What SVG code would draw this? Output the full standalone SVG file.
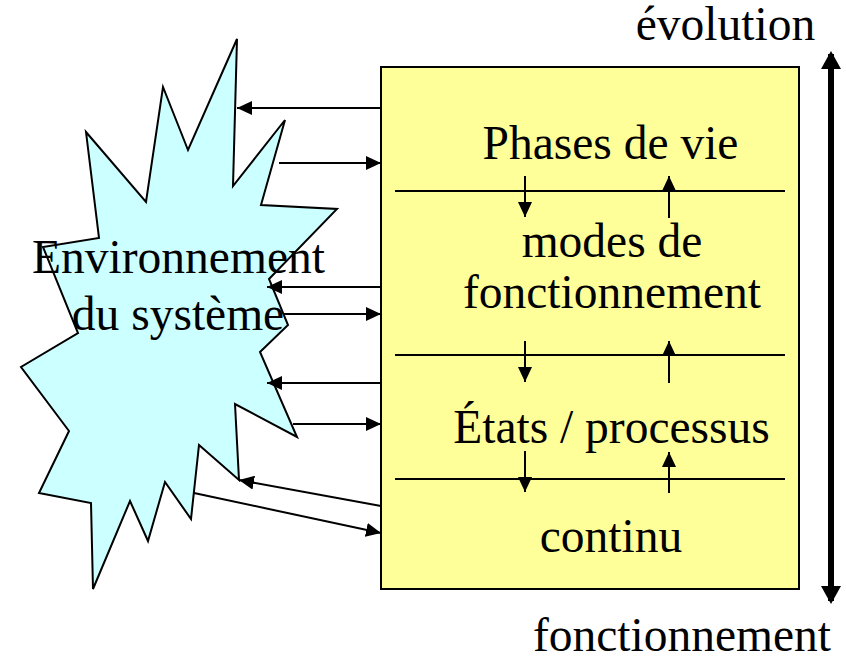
<svg xmlns="http://www.w3.org/2000/svg" width="846" height="657" viewBox="0 0 846 657">
<style>
text{font-family:"Liberation Serif","Times New Roman",serif;font-size:47.5px;fill:#000;text-anchor:middle}
.ln{stroke:#000;stroke-width:2;fill:none}
.ar{stroke:#000;stroke-width:2;fill:none;marker-end:url(#ah)}
.big{stroke:#000;stroke-width:6;fill:none;marker-start:url(#bh);marker-end:url(#bh)}
</style>
<defs>
<marker id="ah" markerUnits="userSpaceOnUse" markerWidth="16" markerHeight="14" refX="15" refY="7" orient="auto">
<path d="M0,0 L15,7 L0,14 z" fill="#000"/>
</marker>
<marker id="bh" markerUnits="userSpaceOnUse" markerWidth="18" markerHeight="20" refX="15" refY="10" orient="auto-start-reverse">
<path d="M0,0 L18,10 L0,20 z" fill="#000"/>
</marker>
</defs>
<g id="environnement">
<polygon points="237,39 233,186 285,120 261,205 337,209 269,279 288,325 260,352 297,437 235,404 239,480 199,445 191,519 165,482 148,541 130,501 93,589 91,503 39,493 69,431 21,367 78,333 43,247 99,238 86,132 146,202 163,87 188,150" fill="#CCFFFF" stroke="#000" stroke-width="2" stroke-linejoin="miter"/>
</g>
<g id="systeme">
<rect x="381" y="67" width="418" height="522" fill="#FFFF99" stroke="#000" stroke-width="2"/>
<line class="ln" x1="395" y1="191" x2="785" y2="191"/>
<line class="ln" x1="395" y1="355" x2="785" y2="355"/>
<line class="ln" x1="395" y1="479" x2="785" y2="479"/>
<text x="610.5" y="159">Phases de vie</text>
<text x="612" y="257">modes de</text>
<text x="612" y="308">fonctionnement</text>
<text x="611.5" y="443">États / processus</text>
<text x="611" y="552">continu</text>
</g>
<g id="connecteurs">
<line class="ar" x1="381" y1="108" x2="237" y2="108"/>
<line class="ar" x1="279" y1="163" x2="381" y2="163"/>
<line class="ar" x1="381" y1="287" x2="267" y2="287"/>
<line class="ar" x1="283" y1="314" x2="381" y2="314"/>
<line class="ar" x1="381" y1="383" x2="267" y2="383"/>
<line class="ar" x1="293" y1="424" x2="381" y2="424"/>
<line class="ar" x1="381" y1="506" x2="239" y2="480"/>
<line class="ar" x1="194" y1="493" x2="381" y2="533"/>
<line class="ar" x1="525" y1="176" x2="525" y2="217"/>
<line class="ar" x1="669" y1="218" x2="669" y2="176"/>
<line class="ar" x1="525" y1="341" x2="525" y2="382"/>
<line class="ar" x1="669" y1="383" x2="669" y2="341"/>
<line class="ar" x1="525" y1="451" x2="525" y2="492"/>
<line class="ar" x1="669" y1="493" x2="669" y2="452"/>
</g>
<g id="axe">
<line class="big" x1="831" y1="54" x2="831" y2="601"/>
<text x="725.5" y="40">évolution</text>
<text x="682" y="651">fonctionnement</text>
</g>
<g id="labels">
<text x="178.5" y="273">Environnement</text>
<text x="178" y="330">du système</text>
</g>
</svg>
